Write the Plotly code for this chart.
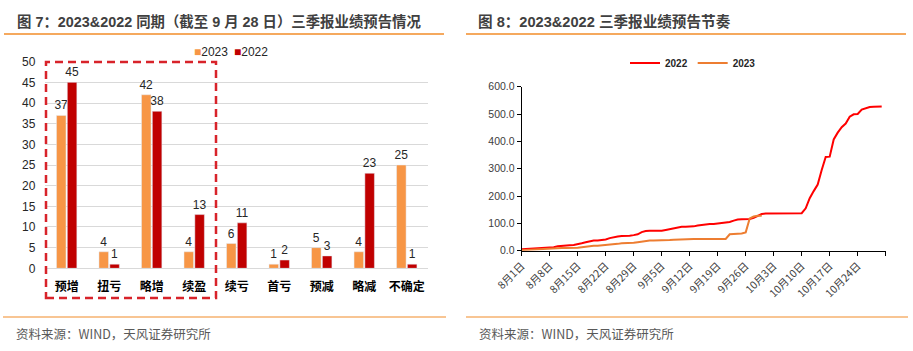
import plotly.graph_objects as go
import pandas as pd

# ---------------- data: left chart (counts by forecast type) ----------------
categories = ["预增", "扭亏", "略增", "续盈", "续亏", "首亏", "预减", "略减", "不确定"]
counts_2023 = [37, 4, 42, 4, 6, 1, 5, 4, 25]
counts_2022 = [45, 1, 38, 13, 11, 2, 3, 23, 1]

# ---------------- data: right chart (cumulative forecasts by day) ----------------
dates_2022 = pd.date_range("2022-08-01", "2022-10-30").strftime("%Y-%m-%d").tolist()
cum_2022 = [
    # Aug 1-31
    5, 6, 7, 8, 9, 9, 9, 11, 13, 16, 18, 20, 20, 21, 23, 27, 31, 35, 37, 37,
    38, 41, 46, 50, 52, 54, 54, 55, 57, 60, 68,
    # Sep 1-30
    72, 73, 73, 73, 73, 76, 79, 82, 86, 88, 88, 88, 89, 92, 94, 97, 98, 98, 100, 102,
    104, 105, 110, 114, 115, 116, 116, 120, 128, 134,
    # Oct 1-30
    136, 136, 136, 136, 136, 136, 136, 136, 136, 137, 155, 192, 218, 242, 295, 343,
    344, 407, 432, 452, 465, 490, 499, 500, 516, 522, 526, 527, 528, 528,
]
# 2023 plotted on the same month/day axis (Aug 1 - Sep 30)
dates_2023 = dates_2022[:61]
cum_2023 = [
    # Aug 1-31
    2, 3, 4, 5, 5, 5, 6, 7, 8, 9, 10, 10, 10, 10, 11, 13, 15, 17, 18, 18,
    19, 21, 22, 23, 25, 27, 27, 28, 29, 31, 33,
    # Sep 1-30
    36, 37, 37, 37, 37, 38, 39, 40, 41, 41, 42, 42, 43, 43, 43, 43, 43, 43, 43, 43,
    43, 60, 62, 62, 63, 67, 118, 125, 128, 128,
]
tick_dates = ["2022-08-01", "2022-08-08", "2022-08-15", "2022-08-22", "2022-08-29",
              "2022-09-05", "2022-09-12", "2022-09-19", "2022-09-26", "2022-10-03",
              "2022-10-10", "2022-10-17", "2022-10-24", "2022-10-31"]
tick_labels = ["8月1日", "8月8日", "8月15日", "8月22日", "8月29日", "9月5日", "9月12日",
               "9月19日", "9月26日", "10月3日", "10月10日", "10月17日", "10月24日", ""]

C23 = "#F79646"
C22 = "#C00000"
LINE22 = "#FF0000"
LINE23 = "#ED7D31"
ORANGE = "#F28C28"
FONT = "Liberation Sans, Arial, Noto Sans CJK SC, sans-serif"
W, H = 913, 351


def px(x):
    return x / W


def py(y):
    return 1 - y / H


fig = go.Figure()
for name, vals, col in (("2023", counts_2023, C23), ("2022", counts_2022, C22)):
    fig.add_trace(go.Bar(x=categories, y=vals, name=name, marker_color=col,
                         text=vals, textposition="outside", cliponaxis=False,
                         constraintext="none",
                         textfont=dict(family=FONT, size=12, color="#262626"),
                         xaxis="x", yaxis="y", showlegend=False))
fig.add_trace(go.Scatter(x=dates_2022, y=cum_2022, mode="lines", name="2022",
                         line=dict(color=LINE22, width=2), xaxis="x2", yaxis="y2",
                         legend="legend2"))
fig.add_trace(go.Scatter(x=dates_2023, y=cum_2023, mode="lines", name="2023",
                         line=dict(color=LINE23, width=2), xaxis="x2", yaxis="y2",
                         legend="legend2"))

fig.update_layout(
    width=W, height=H, autosize=False,
    margin=dict(l=0, r=0, t=0, b=0, pad=0),
    paper_bgcolor="white", plot_bgcolor="white",
    font=dict(family=FONT, color="#262626"),
    bargap=0.49, bargroupgap=0.12,
    xaxis=dict(domain=[px(45.4), px(428)], anchor="y", showline=True, linecolor="#D9D9D9",
               ticks="", showgrid=False, automargin=False,
               tickfont=dict(family="Noto Sans CJK SC", size=12, color="#000000", weight="bold"),
               ticklabelstandoff=7),
    yaxis=dict(domain=[py(268.3), py(61.7)], anchor="x", range=[0, 50], dtick=5,
               showgrid=True, gridcolor="#D9D9D9", gridwidth=1, showline=False,
               zeroline=False, ticks="", ticklabelstandoff=9, automargin=False,
               tickfont=dict(family=FONT, size=12, color="#262626")),
    xaxis2=dict(domain=[px(521.7), px(885.7)], anchor="y2", type="date",
                range=["2022-08-01", "2022-10-31"], tickmode="array",
                tickvals=tick_dates, ticktext=tick_labels, tickangle=-45,
                ticks="outside", ticklen=4, tickcolor="#000000", showline=True,
                linecolor="#000000", linewidth=1, showgrid=False, zeroline=False,
                automargin=False,
                tickfont=dict(family="Noto Sans CJK SC", size=10.5, color="#404040")),
    yaxis2=dict(domain=[py(250.7), py(86.7)], anchor="x2", range=[0, 600], dtick=100,
                tickformat=".1f", ticks="outside", ticklen=4, tickcolor="#000000",
                showline=True, linecolor="#000000", linewidth=1, showgrid=False,
                zeroline=False, automargin=False,
                tickfont=dict(family=FONT, size=10.5, color="#404040")),
    legend2=dict(orientation="h", x=px(693), xanchor="center", y=py(63), yanchor="middle",
                 font=dict(family=FONT, size=10, color="#262626", weight="bold"),
                 bgcolor="rgba(0,0,0,0)", itemwidth=30, tracegroupgap=0),
    showlegend=True,
)

annotations = [
    dict(text="图 7：2023&amp;2022 同期（截至 9 月 28 日）三季报业绩预告情况",
         x=px(15), y=py(21), xanchor="left", yanchor="middle",
         font=dict(family=FONT, size=14.4, color="#404040", weight="bold")),
    dict(text="图 8：2023&amp;2022 三季报业绩预告节奏",
         x=px(476), y=py(21), xanchor="left", yanchor="middle",
         font=dict(family=FONT, size=14.6, color="#404040", weight="bold")),
    dict(text="资料来源：WIND，天风证券研究所", x=px(14), y=py(333),
         xanchor="left", yanchor="middle",
         font=dict(family="Noto Sans CJK SC", size=12.5, color="#595959")),
    dict(text="资料来源：WIND，天风证券研究所", x=px(477), y=py(333),
         xanchor="left", yanchor="middle",
         font=dict(family="Noto Sans CJK SC", size=12.5, color="#595959")),
    # legend of the bar chart
    dict(text=f'<span style="color:{C23}">■</span>2023', x=px(192), y=py(52),
         xanchor="left", yanchor="middle",
         font=dict(family=FONT, size=12, color="#262626")),
    dict(text=f'<span style="color:{C22}">■</span>2022', x=px(232), y=py(52),
         xanchor="left", yanchor="middle",
         font=dict(family=FONT, size=12, color="#262626")),
]
for a in annotations:
    a.update(xref="paper", yref="paper", showarrow=False)
fig.update_layout(annotations=annotations)

shapes = [
    dict(type="line", x0=px(4), x1=px(444), y0=py(34), y1=py(34),
         line=dict(color=ORANGE, width=1.5)),
    dict(type="line", x0=px(466), x1=px(906), y0=py(34), y1=py(34),
         line=dict(color=ORANGE, width=1.5)),
    dict(type="line", x0=px(3), x1=px(446), y0=py(317), y1=py(317),
         line=dict(color=ORANGE, width=1.2)),
    dict(type="line", x0=px(466), x1=px(908), y0=py(317), y1=py(317),
         line=dict(color=ORANGE, width=1.2)),
    dict(type="rect", x0=px(46), x1=px(216), y0=py(298), y1=py(62),
         line=dict(color="#D8232A", width=2.5, dash="8px,5px"),
         fillcolor="rgba(0,0,0,0)"),
]
for s in shapes:
    s.update(xref="paper", yref="paper")
fig.update_layout(shapes=shapes)

fig.write_html("out.html")
